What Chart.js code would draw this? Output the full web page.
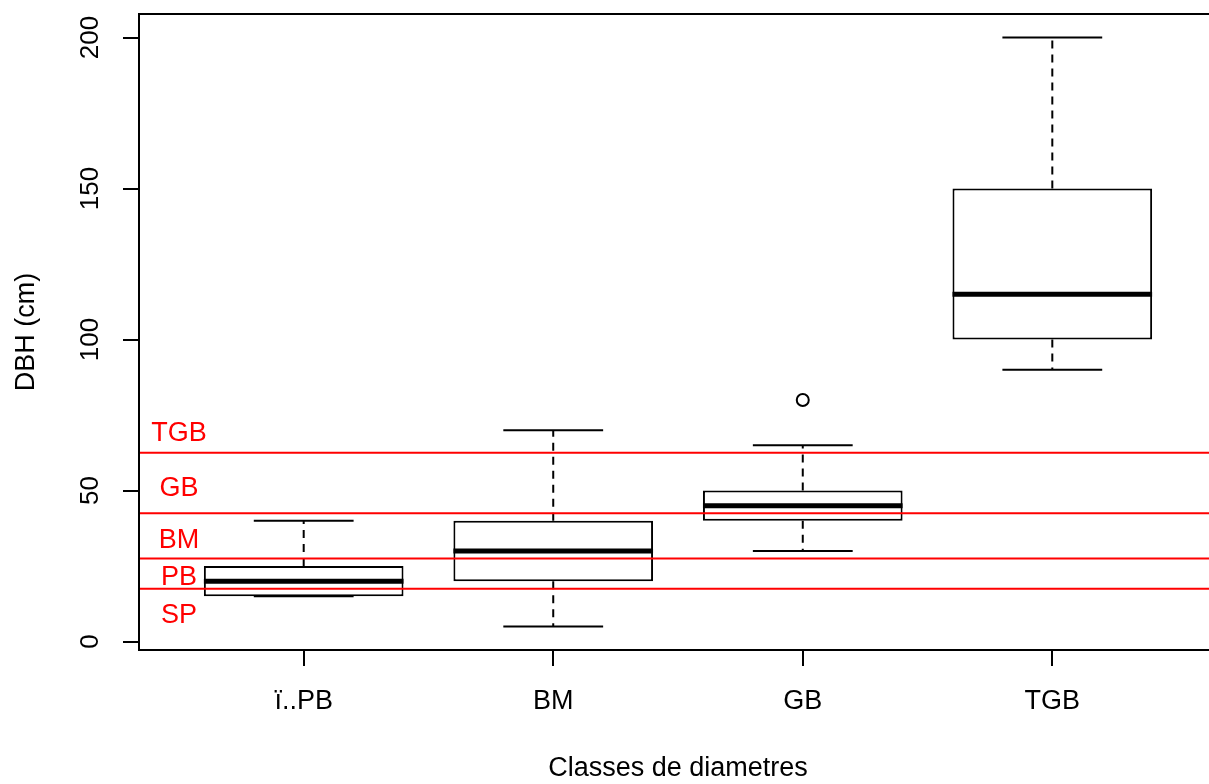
<!DOCTYPE html>
<html>
<head>
<meta charset="utf-8">
<script src="https://cdn.jsdelivr.net/npm/chart.js@4"></script>
<style>
  html, body { margin: 0; padding: 0; background: #fff; overflow: hidden; }
  canvas { display: block; }
</style>
</head>
<body>
<canvas id="boxChart" width="1225" height="784"></canvas>
<script>
// boxplot stats per diameter class
const categories = ["ï..PB", "BM", "GB", "TGB"];
const whiskerLow = [15, 5, 30, 90];
const boxLow = [15, 20, 40, 100];
const medians = [20, 30, 45, 115];
const boxHigh = [25, 40, 50, 150];
const whiskerHigh = [40, 70, 65, 200];
const outliers = [[], [], [80], []];
const yTicks = [0, 50, 100, 150, 200];

// class limits (red lines) and their labels
const limitValues = [17.5, 27.5, 42.5, 62.5];
const limitLabels = ["SP", "PB", "BM", "GB", "TGB"];
const limitLabelY = [8.6, 21.3, 33.4, 50.6, 68.9];

const FONT = '"Liberation Sans", Arial, sans-serif';

// R style axis ranges (4% extension)
const xMin = 0.5 - categories.length * 0.04;
const xMax = categories.length + 0.5 + categories.length * 0.04;
const allVals = whiskerLow.concat(whiskerHigh, outliers.flat());
const lo = Math.min(...allVals), hi = Math.max(...allVals);
const yMin = lo - (hi - lo) * 0.04;
const yMax = hi + (hi - lo) * 0.04;

function segments(list) {
  const pts = [];
  list.forEach(([x1, y1, x2, y2]) => {
    pts.push({ x: x1, y: y1 }, { x: x2, y: y2 }, { x: x2, y: null });
  });
  return pts;
}

const lineDefaults = {
  type: "line",
  pointRadius: 0,
  pointHoverRadius: 0,
  fill: false,
  spanGaps: false,
  borderCapStyle: "butt",
  borderColor: "#000",
};

const medianSegs = segments(medians.map((m, i) => [i + 0.6, m, i + 1.4, m]));
const whiskerSegs = segments(
  categories.flatMap((c, i) => [
    [i + 1, boxHigh[i], i + 1, whiskerHigh[i]],
    [i + 1, boxLow[i], i + 1, whiskerLow[i]],
  ])
);
const capSegs = segments(
  categories.flatMap((c, i) => [
    [i + 0.8, whiskerHigh[i], i + 1.2, whiskerHigh[i]],
    [i + 0.8, whiskerLow[i], i + 1.2, whiskerLow[i]],
  ])
);
const limitSegs = segments(limitValues.map((v) => [xMin, v, xMax, v]));
const outlierPts = outliers.flatMap((list, i) => list.map((v) => ({ x: i + 1, y: v })));

const extras = {
  id: "extras",
  afterDraw(chart) {
    const { ctx, chartArea: a, scales } = chart;
    const x = scales.x, y = scales.y;
    ctx.save();
    ctx.strokeStyle = "#000";
    ctx.lineWidth = 2;
    ctx.strokeRect(a.left, a.top, a.right - a.left, a.bottom - a.top);

    ctx.font = "26px " + FONT;
    ctx.fillStyle = "#000";
    ctx.textAlign = "center";
    ctx.textBaseline = "middle";
    yTicks.forEach((v) => {
      ctx.save();
      ctx.translate(91, y.getPixelForValue(v));
      ctx.rotate(-Math.PI / 2);
      ctx.fillText(String(v), 0, 0);
      ctx.restore();
    });

    ctx.font = "27px " + FONT;
    ctx.fillStyle = "#FF0000";
    limitLabels.forEach((t, i) => {
      ctx.fillText(t, x.getPixelForValue(0.5), y.getPixelForValue(limitLabelY[i]));
    });
    ctx.restore();
  },
};

new Chart(document.getElementById("boxChart"), {
  type: "bar",
  data: {
    datasets: [
      {
        type: "bar",
        data: categories.map((c, i) => ({ x: i + 1, y: [boxLow[i], boxHigh[i]] })),
        backgroundColor: "#fff",
        borderColor: "#000",
        borderWidth: 2,
        borderSkipped: false,
        barPercentage: 0.8,
        categoryPercentage: 1,
        order: 5,
      },
      { ...lineDefaults, data: whiskerSegs, borderWidth: 2, borderDash: [8, 6], order: 4 },
      { ...lineDefaults, data: capSegs, borderWidth: 2, order: 3 },
      { ...lineDefaults, data: medianSegs, borderWidth: 5, order: 2 },
      {
        type: "scatter",
        data: outlierPts,
        pointRadius: 6,
        pointStyle: "circle",
        borderWidth: 2,
        borderColor: "#000",
        backgroundColor: "#fff",
        order: 1,
      },
      { ...lineDefaults, data: limitSegs, borderWidth: 2, borderColor: "#FF0000", order: 0 },
    ],
  },
  options: {
    responsive: false,
    animation: false,
    layout: { padding: { top: 14, right: 5, left: 0, bottom: 0 } },
    plugins: { legend: { display: false }, tooltip: { enabled: false } },
    scales: {
      x: {
        type: "linear",
        min: xMin,
        max: xMax,
        offset: false,
        afterBuildTicks: (s) => { s.ticks = categories.map((c, i) => ({ value: i + 1 })); },
        afterFit: (s) => { s.height = 134; },
        ticks: {
          callback: (v, i) => categories[i],
          color: "#000",
          font: { family: FONT, size: 27 },
          padding: 19,
          maxRotation: 0,
          autoSkip: false,
        },
        grid: { offset: false, drawOnChartArea: false, tickLength: 16, color: "#000", lineWidth: 2 },
        border: { display: true, color: "#000", width: 2 },
        title: {
          display: true,
          text: "Classes de diametres",
          color: "#000",
          font: { family: FONT, size: 27, lineHeight: 1 },
          padding: { top: 0, bottom: 2 },
        },
      },
      y: {
        type: "linear",
        min: yMin,
        max: yMax,
        afterBuildTicks: (s) => { s.ticks = yTicks.map((v) => ({ value: v })); },
        afterFit: (s) => { s.width = 139; },
        ticks: { display: false },
        grid: { drawOnChartArea: false, tickLength: 16, color: "#000", lineWidth: 2 },
        border: { display: true, color: "#000", width: 2 },
        title: {
          display: true,
          text: "DBH (cm)",
          color: "#000",
          font: { family: FONT, size: 27 },
          padding: { top: 10, bottom: 0 },
        },
      },
    },
  },
  plugins: [extras],
});
</script>
</body>
</html>
